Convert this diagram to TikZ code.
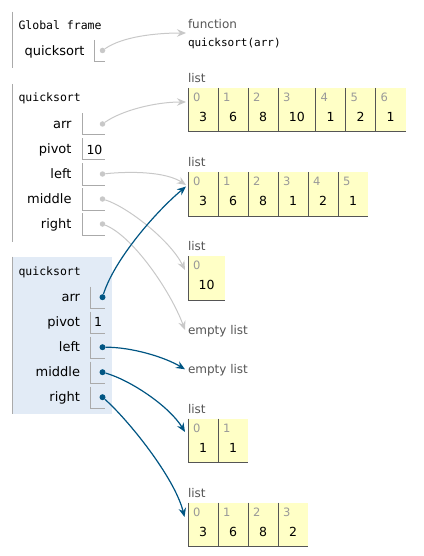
\documentclass[tikz,border=0pt]{standalone}
\usepackage{fontspec}
\usetikzlibrary{arrows.meta}
\newfontfamily\pysans{DejaVu Sans}
\newfontfamily\pymono{DejaVu Sans Mono}
\definecolor{pyblue}{HTML}{005583}
\definecolor{pygrey}{HTML}{C8C8C8}
\definecolor{pyframe}{HTML}{E2EBF6}
\definecolor{pycellbg}{HTML}{FFFFC6}
\definecolor{pycellline}{HTML}{555555}
\definecolor{pyline}{HTML}{AAAAAA}
\definecolor{pytype}{HTML}{555555}
\definecolor{pyidx}{HTML}{999999}
\tikzset{
  txt/.style={inner sep=0pt, outer sep=0pt},
  framename/.style={txt, anchor=base west, font=\pymono\fontsize{11.5}{13}\selectfont},
  varname/.style={txt, anchor=base east, font=\pysans\fontsize{13}{15}\selectfont},
  val/.style={txt, anchor=base, font=\pysans\fontsize{12.5}{14}\selectfont},
  varval/.style={txt, anchor=base west, font=\pysans\fontsize{12.5}{14}\selectfont},
  idx/.style={txt, anchor=base west, text=pyidx, font=\pysans\fontsize{11.5}{13}\selectfont},
  typelabel/.style={txt, anchor=base west, text=pytype, font=\pysans\fontsize{12}{14}\selectfont},
  codetext/.style={txt, anchor=base west, font=\pymono\fontsize{11}{13}\selectfont},
  vbox/.style={draw=pyline, line width=1pt},
  frameline/.style={draw=pyline, line width=1pt},
  cellbg/.style={fill=pycellbg},
  cellline/.style={draw=pycellline, line width=1pt},
  greydot/.style={circle, fill=pygrey, inner sep=0pt, minimum size=5.5pt},
  bluedot/.style={circle, fill=pyblue, inner sep=0pt, minimum size=6pt},
  greyarrow/.style={draw=pygrey, line width=1pt, -{Stealth[length=9pt,width=7.5pt,inset=3pt]}},
  bluearrow/.style={draw=pyblue, line width=1.2pt, -{Stealth[length=9pt,width=7.5pt,inset=3pt]}},
}
% #1 name, #2 label right x, #3 box left x, #4 baseline, #5 label
\newcommand\pyrow[5]{%
  \node[varname] (#1) at (#2,#4) {#5};
  \draw[vbox] (#3,#4-15.2) -- (#3,#4+6.5) -- (104.5,#4+6.5);
}
% #1 name, #2 x, #3 top, #4 width, #5 index, #6 value
\newcommand\pycell[6]{%
  \fill[cellbg] (#2,#3) rectangle ++(#4,44);
  \draw[cellline] (#2,#3) -- ++(0,44) -- ++(#4,0);
  \node[idx] (#1i) at (#2+5,#3+13.5) {#5};
  \node[val] (#1v) at (#2+#4/2,#3+33.5) {#6};
}
\begin{document}
\begin{tikzpicture}[x=1pt,y=-1pt]
\useasboundingbox (0,0) rectangle (423,556);

% ---------- Global frame ----------
\draw[frameline] (12.3,11.7) -- (12.3,68.3);
\node[framename] (gname) at (18.5,29.3) {Global frame};
\node[varname] (gqs) at (84.5,56) {quicksort};
\draw[vbox] (94.3,40) -- (94.3,61.7) -- (105,61.7);
\node[greydot] (gd) at (102.5,50.5) {};

% ---------- function object ----------
\node[typelabel] (funlab) at (188,28.5) {function};
\node[codetext] (funcode) at (188,46.5) {quicksort(arr)};
\coordinate (tfun) at (186,33);

% ---------- Frame 1 ----------
\draw[frameline] (12.3,84) -- (12.3,241.7);
\node[framename] (f1name) at (18.5,102) {quicksort};
\pyrow{f1arr}{71.5}{82.3}{128.5}{arr}
\pyrow{f1pivot}{71.5}{82.3}{153.5}{pivot}
\pyrow{f1left}{71.5}{82.3}{178.5}{left}
\pyrow{f1middle}{71.5}{82.3}{203.5}{middle}
\pyrow{f1right}{71.5}{82.3}{228.5}{right}
\node[varval] (f1pv) at (86.5,154) {10};
\node[greydot] (d1arr) at (102.5,124) {};
\node[greydot] (d1left) at (102.5,174) {};
\node[greydot] (d1middle) at (102.5,199) {};
\node[greydot] (d1right) at (102.5,224) {};

% ---------- Frame 2 (highlighted) ----------
\fill[pyframe] (12.3,256.7) rectangle (111.7,414.3);
\draw[frameline] (12.3,256.7) -- (12.3,414.3);
\node[framename] (f2name) at (18.5,275) {quicksort};
\pyrow{f2arr}{80}{90.7}{301.7}{arr}
\pyrow{f2pivot}{80}{90.7}{326.7}{pivot}
\pyrow{f2left}{80}{90.7}{351.7}{left}
\pyrow{f2middle}{80}{90.7}{376.7}{middle}
\pyrow{f2right}{80}{90.7}{401.7}{right}
\node[varval] (f2pv) at (94,326.7) {1};
\node[bluedot] (d2arr) at (102.5,297.2) {};
\node[bluedot] (d2left) at (102.5,347.2) {};
\node[bluedot] (d2middle) at (102.5,372.2) {};
\node[bluedot] (d2right) at (102.5,397.2) {};

% ---------- List 1 ----------
\node[typelabel] (l1lab) at (188,82.5) {list};
\pycell{l1a}{188}{88}{30}{0}{3}
\pycell{l1b}{218}{88}{30}{1}{6}
\pycell{l1c}{248}{88}{30}{2}{8}
\pycell{l1d}{278}{88}{37.5}{3}{10}
\pycell{l1e}{315.5}{88}{30}{4}{1}
\pycell{l1f}{345.5}{88}{30}{5}{2}
\pycell{l1g}{375.5}{88}{30}{6}{1}
\coordinate (tl1) at (186,102);

% ---------- List 2 ----------
\node[typelabel] (l2lab) at (188,166.5) {list};
\pycell{l2a}{188}{172}{30}{0}{3}
\pycell{l2b}{218}{172}{30}{1}{6}
\pycell{l2c}{248}{172}{30}{2}{8}
\pycell{l2d}{278}{172}{30}{3}{1}
\pycell{l2e}{308}{172}{30}{4}{2}
\pycell{l2f}{338}{172}{30}{5}{1}
\coordinate (tl2a) at (186,185);
\coordinate (tl2b) at (186,186.5);

% ---------- List 3 ----------
\node[typelabel] (l3lab) at (188,250.5) {list};
\pycell{l3a}{188}{256}{37}{0}{10}
\coordinate (tl3) at (185,270);

% ---------- empty lists ----------
\node[typelabel] (e1) at (188,334) {empty list};
\coordinate (te1) at (185,330);
\node[typelabel] (e2) at (188,373) {empty list};
\coordinate (te2) at (185,369.3);

% ---------- List 4 ----------
\node[typelabel] (l4lab) at (188,413) {list};
\pycell{l4a}{188}{418.5}{30}{0}{1}
\pycell{l4b}{218}{418.5}{30}{1}{1}
\coordinate (tl4) at (185,432);

% ---------- List 5 ----------
\node[typelabel] (l5lab) at (188,497) {list};
\pycell{l5a}{188}{502.5}{30}{0}{3}
\pycell{l5b}{218}{502.5}{30}{1}{6}
\pycell{l5c}{248}{502.5}{30}{2}{8}
\pycell{l5d}{278}{502.5}{30}{3}{2}
\coordinate (tl5) at (184.5,517);

% ---------- connectors ----------
\draw[greyarrow] (gd) .. controls +(20,-14) and +(-30,0) .. (tfun);
\draw[greyarrow] (d1arr) .. controls +(20,-14) and +(-30,0) .. (tl1);
\draw[greyarrow] (d1left) .. controls +(30,-3) and +(-20,-13) .. (tl2a);
\draw[greyarrow] (d1middle) .. controls +(25,8) and +(-15,-30) .. (tl3);
\draw[greyarrow] (d1right) .. controls +(30,12) and +(-15,-40) .. (te1);
\draw[bluearrow] (d2arr) .. controls +(12,-38) and +(-30,25) .. (tl2b);
\draw[bluearrow] (d2left) .. controls +(30,0) and +(-20,-12) .. (te2);
\draw[bluearrow] (d2middle) .. controls +(28,8) and +(-16,-26) .. (tl4);
\draw[bluearrow] (d2right) .. controls +(25,22) and +(-10,-40) .. (tl5);
\end{tikzpicture}
\end{document}
